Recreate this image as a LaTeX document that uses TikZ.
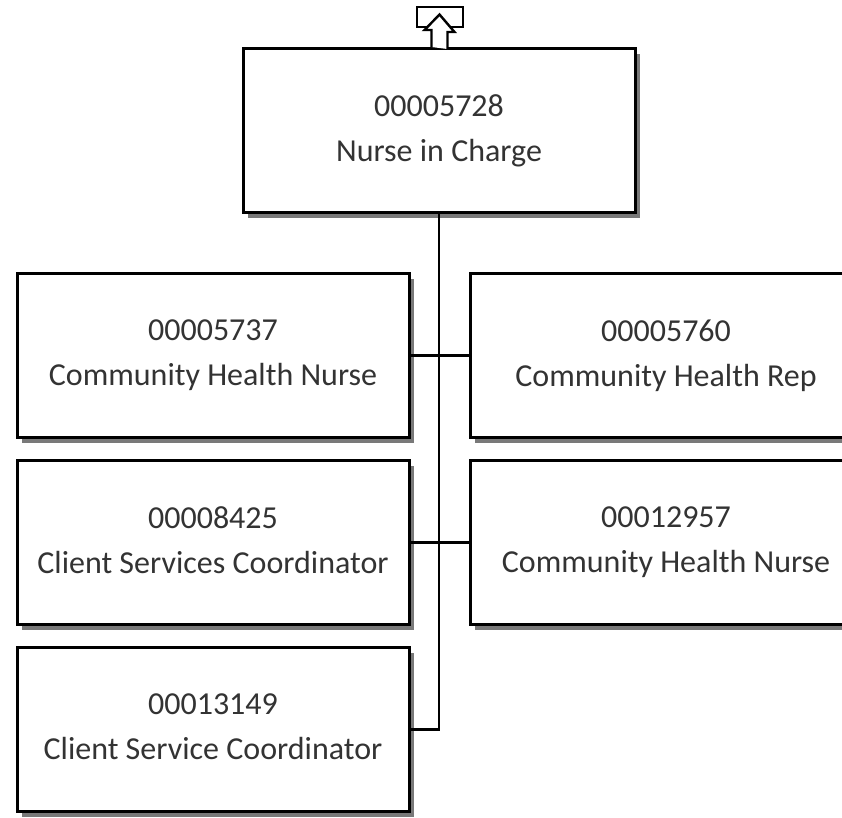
\documentclass[tikz,border=0pt]{standalone}
\usepackage{fontspec}
\setmainfont{Carlito}
\usetikzlibrary{shadows}
\newcommand{\lineB}[2]{#1\\#2\vphantom{g}}
\tikzset{
  posbox/.style={draw=black, line width=3pt, fill=white,
    minimum width=392pt, minimum height=164pt, inner sep=0pt,
    align=center, font=\fontsize{32}{45}\selectfont, text=black!80,
    drop shadow={shadow xshift=5pt, shadow yshift=-5pt, fill=gray!95!black, opacity=1}},
  link/.style={draw=black, line width=2.2pt},
  icon/.style={draw=black, line width=2.4pt, fill=white, line join=miter}
}
\begin{document}
\begin{tikzpicture}[x=1pt,y=-1pt]
\useasboundingbox (0,0) rectangle (842,817);
\fill[white] (0,0) rectangle (842,817);
\begin{scope}
\clip (0,0) rectangle (842,817);
\node[posbox] (top) at (439,130.5) {\lineB{00005728}{Nurse in Charge}};
\node[posbox] (b1) at (213,355.5) {\lineB{00005737}{Community Health Nurse}};
\node[posbox] (b2) at (666,355.5) {\lineB{00005760}{Community Health Rep}};
\node[posbox] (b3) at (213,542.5) {\lineB{00008425}{Client Services Coordinator}};
\node[posbox] (b4) at (666,542.5) {\lineB{00012957}{Community Health Nurse}};
\node[posbox] (b5) at (213,729.5) {\lineB{00013149}{Client Service Coordinator}};
\draw[link] (top.south) |- (b5.east);
\draw[link] (b1.east) -- (b2.west);
\draw[link] (b3.east) -- (b4.west);
% up icon
\draw[icon] (417,7) rectangle (463,27);
\draw[icon] (top.north) ++(-7.5,0) -- ++(0,-17) -- ++(-7,0) -- (439.5,14.5) -- (454.5,32) -- ++(-7,0) -- ++(0,17);
\end{scope}
\end{tikzpicture}
\end{document}
